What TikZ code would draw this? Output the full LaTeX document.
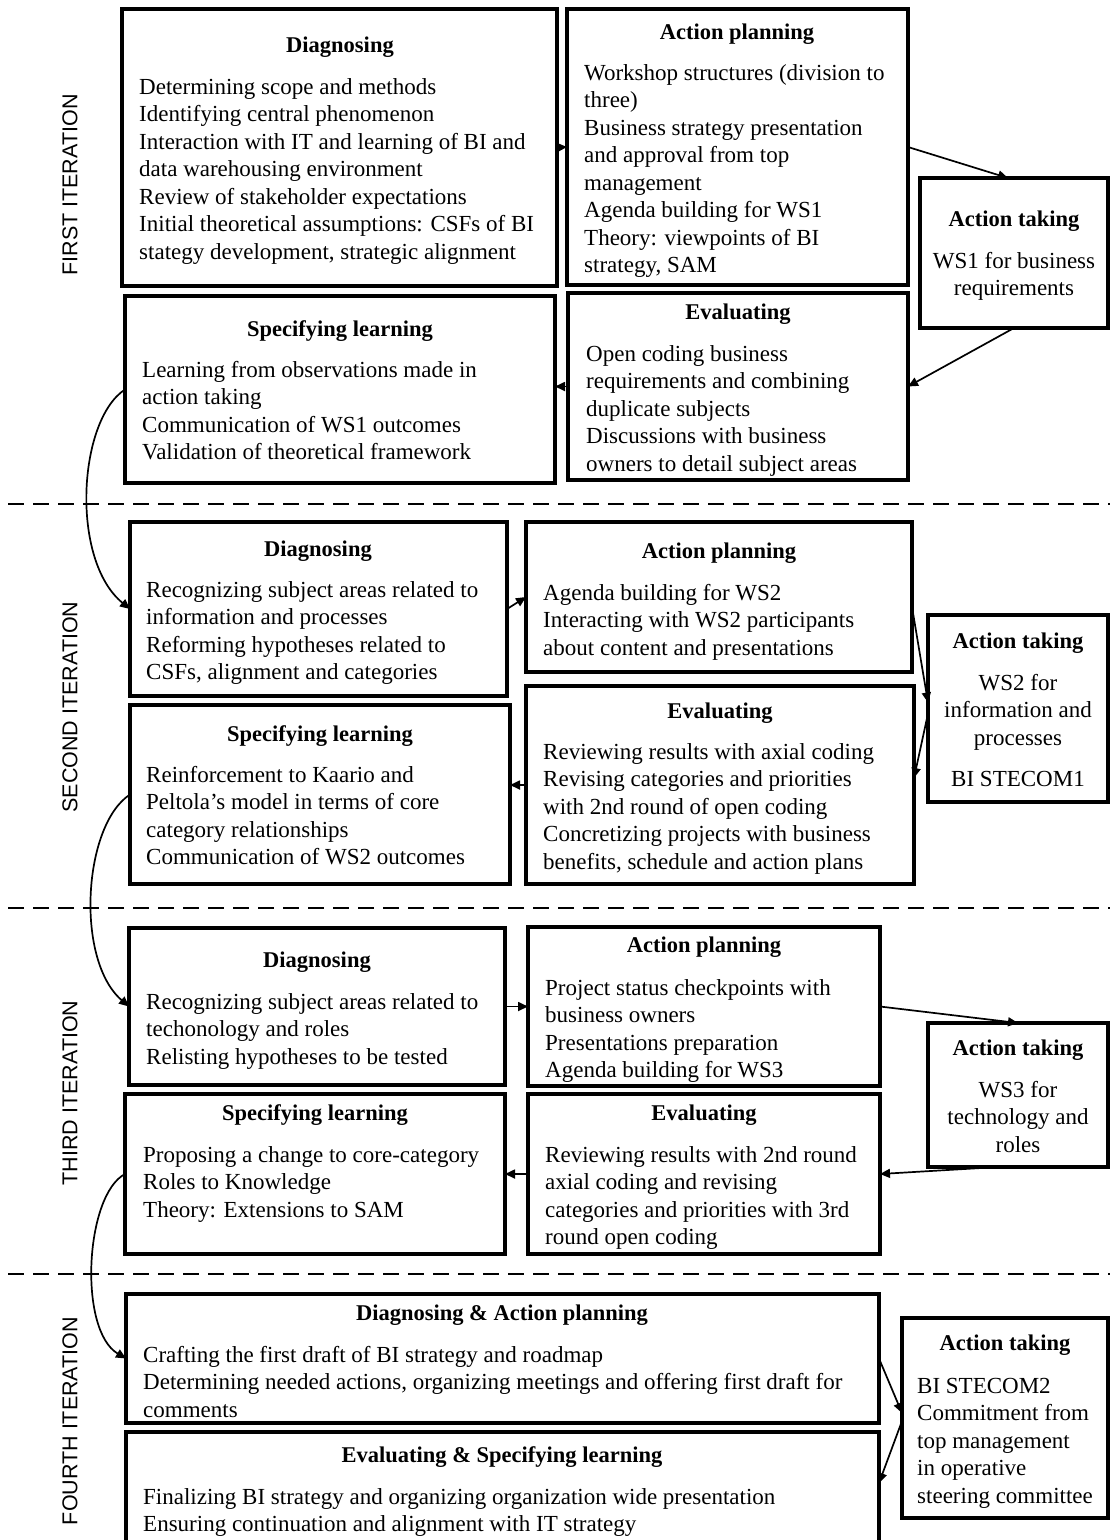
\documentclass[tikz,border=0pt]{standalone}
\usepackage{fontspec}
\setmainfont{Liberation Serif}
\newfontfamily\iterfont{Liberation Sans}
\usetikzlibrary{arrows.meta,fit,calc}

% left-aligned and centred stacks of lines, baseline on the first line
\newcommand\rows[1]{\begin{tabular}[t]{@{}l@{}}#1\end{tabular}}
\newcommand\crows[1]{\begin{tabular}[t]{@{}c@{}}#1\end{tabular}}

\begin{document}
\begin{tikzpicture}[x=1pt,y=-1pt,
  box/.style={draw, line width=3.8pt, inner sep=0pt, outer sep=0pt},
  ttl/.style={anchor=base, inner sep=0pt, font=\fontsize{22.5}{27}\selectfont\bfseries},
  body/.style={anchor=base west, inner sep=0pt, font=\fontsize{23}{27.5}\selectfont},
  cbody/.style={anchor=base, inner sep=0pt, font=\fontsize{23}{27.5}\selectfont},
  iter/.style={rotate=90, inner sep=0pt, font=\iterfont\fontsize{21.5}{26}\selectfont},
  flow/.style={line width=1.7pt, -{Triangle[length=10pt,width=9pt]}},
  sep/.style={line width=2pt, dash pattern=on 16pt off 9pt}]

\useasboundingbox (0,0) rectangle (1110,1540);
\clip (0,0) rectangle (1110,1540);
\fill[white] (0,0) rectangle (1110,1540);

% ---------------- iteration labels and separators
\node[iter] (it1) at (70,185) {FIRST ITERATION};
\node[iter] (it2) at (70,707) {SECOND ITERATION};
\node[iter] (it3) at (70,1093) {THIRD ITERATION};
\node[iter] (it4) at (70,1421) {FOURTH ITERATION};

\draw[sep] (8,504) -- (1110,504);
\draw[sep] (8,908) -- (1110,908);
\draw[sep] (8,1274) -- (1110,1274);

% ---------------- first iteration
\node[box, fit={(122,9) (557,286)}] (d1) {};
\node[ttl] (d1t) at (340,52) {Diagnosing};
\node[body] (d1b) at (139,94) {\rows{Determining scope and methods\\
Identifying central phenomenon\\
Interaction with IT and learning of BI and\\
data warehousing environment\\
Review of stakeholder expectations\\
Initial theoretical assumptions: CSFs of BI\\
stategy development, strategic alignment}};

\node[box, fit={(567,9) (908,285)}] (a1) {};
\node[ttl] (a1t) at (737,39) {Action planning};
\node[body] (a1b) at (584,80) {\rows{Workshop structures (division to\\
three)\\
Business strategy presentation\\
and approval from top\\
management\\
Agenda building for WS1\\
Theory: viewpoints of BI\\
strategy, SAM}};

\node[box, fit={(920,178) (1108,328)}] (t1) {};
\node[ttl] (t1t) at (1014,226) {Action taking};
\node[cbody] (t1b) at (1014,268) {\crows{WS1 for business\\requirements}};

\node[box, fit={(568,293) (908,480)}] (e1) {};
\node[ttl] (e1t) at (738,319) {Evaluating};
\node[body] (e1b) at (586,361) {\rows{Open coding business\\
requirements and combining\\
duplicate subjects\\
Discussions with business\\
owners to detail subject areas}};

\node[box, fit={(125,296) (555,483)}] (s1) {};
\node[ttl] (s1t) at (340,336) {Specifying learning};
\node[body] (s1b) at (142,377) {\rows{Learning from observations made in\\
action taking\\
Communication of WS1 outcomes\\
Validation of theoretical framework}};

% ---------------- second iteration
\node[box, fit={(130,522) (507,696)}] (d2) {};
\node[ttl] (d2t) at (318,556) {Diagnosing};
\node[body] (d2b) at (146,597) {\rows{Recognizing subject areas related to\\
information and processes\\
Reforming hypotheses related to\\
CSFs, alignment and categories}};

\node[box, fit={(526,522) (912,672)}] (a2) {};
\node[ttl] (a2t) at (719,558) {Action planning};
\node[body] (a2b) at (543,600) {\rows{Agenda building for WS2\\
Interacting with WS2 participants\\
about content and presentations}};

\node[box, fit={(928,615) (1108,802)}] (t2) {};
\node[ttl] (t2t) at (1018,648) {Action taking};
\node[cbody] (t2b) at (1018,690) {\crows{WS2 for\\information and\\processes\\[13.5pt]BI STECOM1}};

\node[box, fit={(526,686) (914,884)}] (e2) {};
\node[ttl] (e2t) at (720,718) {Evaluating};
\node[body] (e2b) at (543,759) {\rows{Reviewing results with axial coding\\
Revising categories and priorities\\
with 2nd round of open coding\\
Concretizing projects with business\\
benefits, schedule and action plans}};

\node[box, fit={(130,705) (510,884)}] (s2) {};
\node[ttl] (s2t) at (320,741) {Specifying learning};
\node[body] (s2b) at (146,782) {\rows{Reinforcement to Kaario and\\
Peltola’s model in terms of core\\
category relationships\\
Communication of WS2 outcomes}};

% ---------------- third iteration
\node[box, fit={(129,928) (505,1085)}] (d3) {};
\node[ttl] (d3t) at (317,967) {Diagnosing};
\node[body] (d3b) at (146,1009) {\rows{Recognizing subject areas related to\\
techonology and roles\\
Relisting hypotheses to be tested}};

\node[box, fit={(528,927) (880,1086)}] (a3) {};
\node[ttl] (a3t) at (704,952) {Action planning};
\node[body] (a3b) at (545,995) {\rows{Project status checkpoints with\\
business owners\\
Presentations preparation\\
Agenda building for WS3}};

\node[box, fit={(928,1023) (1108,1167)}] (t3) {};
\node[ttl] (t3t) at (1018,1055) {Action taking};
\node[cbody] (t3b) at (1018,1097) {\crows{WS3 for\\technology and\\roles}};

\node[box, fit={(528,1094) (880,1254)}] (e3) {};
\node[ttl] (e3t) at (704,1120) {Evaluating};
\node[body] (e3b) at (545,1162) {\rows{Reviewing results with 2nd round\\
axial coding and revising\\
categories and priorities with 3rd\\
round open coding}};

\node[box, fit={(125,1094) (505,1254)}] (s3) {};
\node[ttl] (s3t) at (315,1120) {Specifying learning};
\node[body] (s3b) at (143,1162) {\rows{Proposing a change to core-category\\
Roles to Knowledge\\
Theory: Extensions to SAM}};

% ---------------- fourth iteration
\node[box, fit={(126,1294) (879,1423)}] (da4) {};
\node[ttl] (da4t) at (502,1320) {Diagnosing \& Action planning};
\node[body] (da4b) at (143,1362) {\rows{Crafting the first draft of BI strategy and roadmap\\
Determining needed actions, organizing meetings and offering first draft for\\
comments}};

\node[box, fit={(126,1432) (879,1570)}] (es4) {};
\node[ttl] (es4t) at (502,1462) {Evaluating \& Specifying learning};
\node[body] (es4b) at (143,1504) {\rows{Finalizing BI strategy and organizing organization wide presentation\\
Ensuring continuation and alignment with IT strategy}};

\node[box, fit={(902,1318) (1108,1518)}] (t4) {};
\node[ttl] (t4t) at (1005,1350) {Action taking};
\node[body] (t4b) at (917,1393) {\rows{BI STECOM2\\
Commitment from\\
top management\\
in operative\\
steering committee}};

% ---------------- connectors
\draw[flow] (d1.east) -- (a1.west);
\draw[flow] (a1.east) -- ($(t1.north)+(-6,0)$);
\draw[flow] (t1.south) -- (e1.east);
\draw[flow] (e1.west) -- (e1.west -| s1.east);
\draw[flow] (s1.west) .. controls (78,420) and (70,560) .. (d2.west);

\draw[flow] (d2.east) -- (a2.west);
\draw[flow] ($(a2.east)+(0,10)$) -- ($(t2.west)+(0,-6)$);
\draw[flow] ($(t2.west)+(0,5)$) -- ($(e2.east)+(0,-7)$);
\draw[flow] (e2.west) -- (e2.west -| s2.east);
\draw[flow] (s2.west) .. controls (83,825) and (75,960) .. (d3.west);

\draw[flow] (d3.east) -- (d3.east -| a3.west);
\draw[flow] (a3.east) -- (t3.north);
\draw[flow] ($(t3.south)+(-20,0)$) -- (e3.east);
\draw[flow] (e3.west) -- (e3.west -| s3.east);
\draw[flow] (s3.west) .. controls (85,1195) and (78,1330) .. (da4.west);

\draw[flow] (da4.east) -- ($(t4.west)+(0,-5)$);
\draw[flow] ($(t4.west)+(0,3)$) -- ($(es4.north east)+(0,51)$);
\end{tikzpicture}
\end{document}
